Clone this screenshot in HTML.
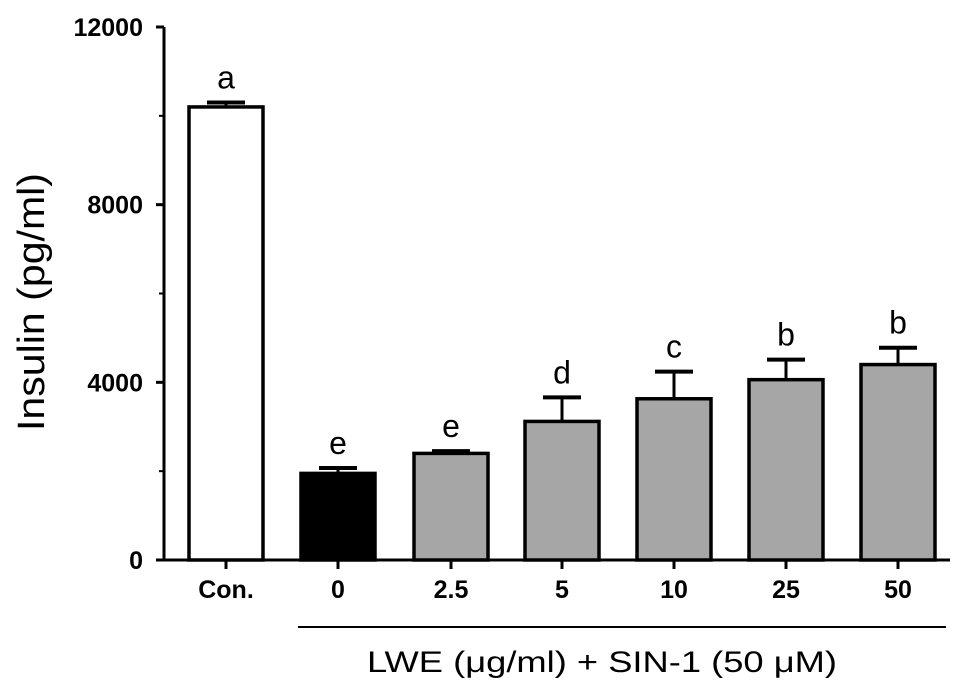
<!DOCTYPE html>
<html><head><meta charset="utf-8"><style>
body{margin:0;background:#fff}
svg{display:block;font-family:"Liberation Sans",Arial,sans-serif}
</style></head><body>
<svg id="c" width="969" height="697" viewBox="0 0 969 697"></svg>
<script>
const categories=["Con.","0","2.5","5","10","25","50"];
const values=[10200,1950,2400,3120,3630,4060,4400];
const errors=[100,120,50,540,610,450,380];
const letters=["a","e","e","d","c","b","b"];
const fills=["#ffffff","#000000","#a6a6a6","#a6a6a6","#a6a6a6","#a6a6a6","#a6a6a6"];
const yTicks=[0,4000,8000,12000];
const yMinor=[2000,6000,10000];
const NS="http://www.w3.org/2000/svg";
const svg=document.getElementById('c');
const y0=560,yTop=27,yMax=12000,axX=164;
const y=v=>y0-(v/yMax)*(y0-yTop);
const centers=[226,338,451,562,674,786,898];
const bw=74;
const x=i=>centers[i];
function mk(t,a,txt){const e=document.createElementNS(NS,t);for(const k in a)e.setAttribute(k,a[k]);if(txt!=null)e.textContent=txt;svg.appendChild(e);return e;}
let e;
e=mk('line',{x1:axX,y1:y(yMax),x2:axX,y2:y0+1,stroke:'#000','stroke-width':3});


e=mk('line',{x1:axX,y1:y0,x2:950,y2:y0,stroke:'#000','stroke-width':3});


yTicks.forEach(v=>{
 e=mk('line',{x1:axX-8,y1:y(v),x2:axX,y2:y(v),stroke:'#000','stroke-width':3});
 
 
 e=mk('text',{x:axX-21,y:y(v)+9,'text-anchor':'end','font-size':25,'font-weight':'bold'},v);
 
 
});
yMinor.forEach(v=>{
 e=mk('line',{x1:axX-5,y1:y(v),x2:axX,y2:y(v),stroke:'#000','stroke-width':2});
 
 
});
categories.forEach((c,i)=>{
 const cx=x(i);
 const top=y(values[i]), et=y(values[i]+errors[i]);
 e=mk('line',{x1:cx,y1:top,x2:cx,y2:et,stroke:'#000','stroke-width':3});
 
 
 e=mk('line',{x1:cx-19,y1:et,x2:cx+19,y2:et,stroke:'#000','stroke-width':4});
 
 
 e=mk('rect',{x:cx-bw/2,y:top,width:bw,height:y0-top,fill:fills[i],stroke:'#000','stroke-width':3.5});
 
 
 e=mk('text',{x:cx,y:et-14,'text-anchor':'middle','font-size':32},letters[i]);
 
 
 e=mk('line',{x1:cx,y1:y0,x2:cx,y2:y0+9,stroke:'#000','stroke-width':3});
 
 
 e=mk('text',{x:cx,y:y0+38,'text-anchor':'middle','font-size':25,'font-weight':'bold'},c);
 
 
});
e=mk('line',{x1:298,y1:627,x2:946,y2:627,stroke:'#000','stroke-width':2});


e=mk('text',{x:367,y:672,'font-size':30,textLength:470,lengthAdjust:'spacingAndGlyphs'},'LWE (μg/ml) + SIN-1 (50 μM)');


e=mk('text',{x:0,y:0,'text-anchor':'middle','font-size':38,textLength:258,lengthAdjust:'spacingAndGlyphs',transform:'translate(44,302) rotate(-90)'},'Insulin (pg/ml)');


</script>
</body></html>
